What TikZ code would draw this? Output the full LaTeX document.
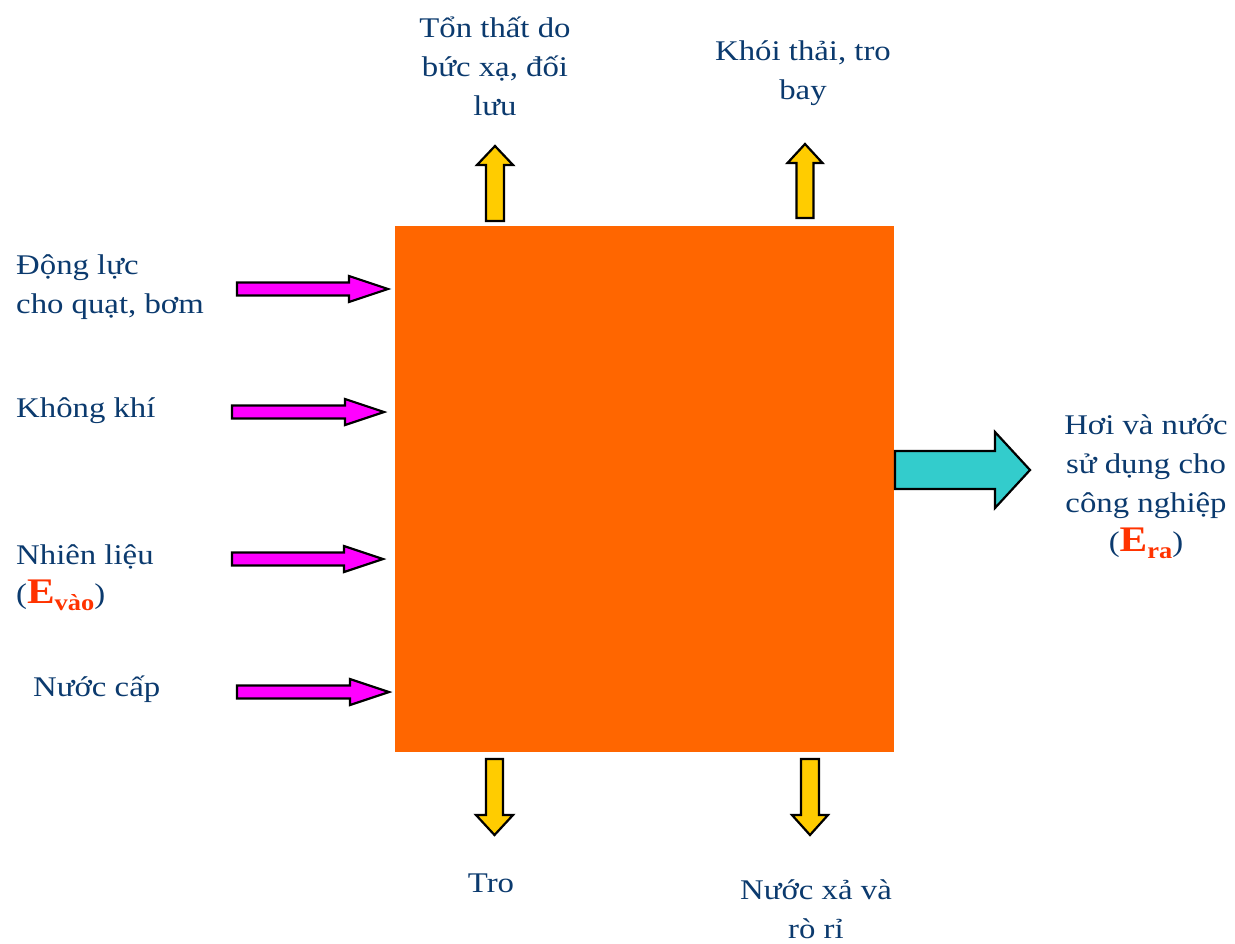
\documentclass[tikz,border=0pt]{standalone}
\usepackage{fontspec}
\setmainfont{Liberation Serif}[FakeStretch=1.15]
\definecolor{navy}{HTML}{0B3A6E}
\definecolor{boxor}{HTML}{FF6600}
\definecolor{mag}{HTML}{FF00FF}
\definecolor{cyanar}{HTML}{33CCCC}
\definecolor{yel}{HTML}{FFCC00}
\definecolor{ered}{HTML}{FF3300}
\newcommand\rarrow[7]{% style, x0, xh, xtip, y, shaft half, head half
  \draw[#1] (#2,#5-#6) -- (#3,#5-#6) -- (#3,#5-#7) -- (#4,#5) -- (#3,#5+#7) -- (#3,#5+#6) -- (#2,#5+#6) -- cycle;}
\newcommand\varrow[7]{% style, y0, yh, ytip, x, shaft half, head half
  \draw[#1] (#5-#6,#2) -- (#5-#6,#3) -- (#5-#7,#3) -- (#5,#4) -- (#5+#7,#3) -- (#5+#6,#3) -- (#5+#6,#2) -- cycle;}
\newcommand\Evar[1]{{\color{ered}\bfseries\fontsize{36}{36}\selectfont E\raisebox{-7pt}{\fontsize{23}{23}\selectfont #1}}}
\begin{document}
\begin{tikzpicture}[x=1pt,y=-1pt,
  lbl/.style={text=navy,font=\fontsize{28.5}{39}\selectfont,inner sep=0pt},
  magar/.style={fill=mag,draw=black,line width=2.2pt,line join=miter},
  cyar/.style={fill=cyanar,draw=black,line width=2.2pt,line join=miter},
  yelar/.style={fill=yel,draw=black,line width=2.2pt,line join=miter}]
\useasboundingbox[fill=white] (0,0) rectangle (1235,943);
\node[fill=boxor,minimum width=499pt,minimum height=526pt,inner sep=0pt,anchor=north west] (box) at (395,226) {};
% inputs
\rarrow{magar}{237}{349}{388}{289}{6.5}{13}
\rarrow{magar}{232}{345}{384}{412}{6.5}{13}
\rarrow{magar}{232}{344}{383}{559}{6.5}{13}
\rarrow{magar}{237}{350}{389}{692}{6.5}{13}
% output
\rarrow{cyar}{895}{995}{1030}{470}{19}{38}
% up arrows
\varrow{yelar}{221}{165}{146}{495}{9}{18}
\varrow{yelar}{218}{163}{144}{805}{8.5}{17.5}
% down arrows
\varrow{yelar}{759}{815}{835}{494.5}{8.5}{18.5}
\varrow{yelar}{759}{815}{835}{810}{9}{18}
% labels
\node[lbl,anchor=west,align=left] (l1) at (16,287) {Động lực\\cho quạt, bơm};
\node[lbl,anchor=west] (l2) at (16,411) {Không khí};
\node[lbl,anchor=west,align=left] (l3) at (16,578) {Nhiên liệu\\(\Evar{vào})};
\node[lbl,anchor=west] (l4) at (33,689) {Nước cấp};
\node[lbl,align=center] (r1) at (1146,487) {Hơi và nước\\sử dụng cho\\công nghiệp\\(\Evar{ra})};
\node[lbl,align=center] (t1) at (495,66) {Tổn thất do\\bức xạ, đối\\lưu};
\node[lbl,align=center] (t2) at (803,73) {Khói thải, tro\\bay};
\node[lbl] (b1) at (491,883) {Tro};
\node[lbl,align=center] (b2) at (816,909) {Nước xả và\\rò rỉ};
\end{tikzpicture}
\end{document}
